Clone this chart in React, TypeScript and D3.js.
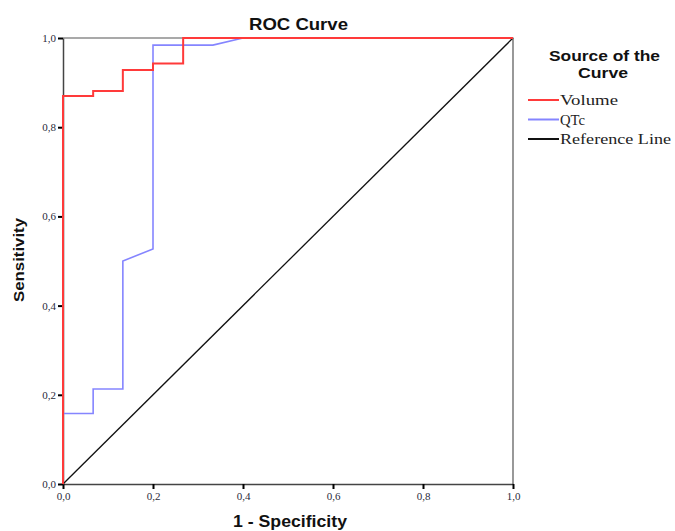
import React, { useEffect, useRef } from 'react';
import * as d3 from 'd3';

const W = 675;
const H = 531;
const margin = { top: 38, right: 162, bottom: 47, left: 63 };

// [1 - specificity, sensitivity]
const volumeX = [0, 0, 0.067, 0.067, 0.133, 0.133, 0.2, 0.2, 0.267, 0.267, 1];
const volumeY = [0, 0.87, 0.87, 0.881, 0.881, 0.928, 0.928, 0.943, 0.943, 1, 1];
const qtcX = [0, 0, 0.067, 0.067, 0.133, 0.133, 0.2, 0.2, 0.333, 0.4, 1];
const qtcY = [0, 0.158, 0.158, 0.213, 0.213, 0.5, 0.527, 0.984, 0.984, 1, 1];
const refX = [0, 1];
const refY = [0, 1];
const ticks = [0, 0.2, 0.4, 0.6, 0.8, 1.0];

const series = [
  { name: 'Volume', xs: volumeX, ys: volumeY, color: '#ff3a3a', width: 2, textLen: 58 },
  { name: 'QTc', xs: qtcX, ys: qtcY, color: '#8585ff', width: 1.6, textLen: 25 },
  { name: 'Reference Line', xs: refX, ys: refY, color: '#111', width: 1.3, textLen: 111 },
];

export default function App() {
  const ref = useRef<SVGSVGElement>(null);

  useEffect(() => {
    const root = d3.select(ref.current);
    root.selectAll('*').remove();
    const iw = W - margin.left - margin.right;
    const ih = H - margin.top - margin.bottom;

    const x = d3.scaleLinear().domain([0, 1]).range([0, iw]);
    const y = d3.scaleLinear().domain([0, 1]).range([ih, 0]);
    const fmt = (d: number) => d3.format('.1f')(d).replace('.', ',');

    const svg = root.append('g')
      .attr('transform', `translate(${margin.left},${margin.top})`);

    // frame top/right
    svg.append('path')
      .attr('d', `M0,0H${iw}V${ih}`)
      .attr('fill', 'none')
      .attr('stroke', '#555')
      .attr('stroke-width', 1.2);

    const tickFont = (g: any) => {
      g.select('.domain').attr('stroke', '#444').attr('stroke-width', 1.5);
      g.selectAll('.tick line').attr('stroke', '#000').attr('stroke-width', 2);
      g.selectAll('.tick text')
        .attr('font-family', 'Liberation Serif')
        .attr('font-size', 11)
        .attr('fill', '#2a2a3a');
    };

    svg.append('g')
      .attr('transform', `translate(0,${ih})`)
      .call(d3.axisBottom(x).tickValues(ticks).tickFormat(fmt as any).tickSize(5).tickSizeOuter(0))
      .call(tickFont);

    svg.append('g')
      .call(d3.axisLeft(y).tickValues(ticks).tickFormat(fmt as any).tickSize(5).tickSizeOuter(0).tickPadding(2))
      .call(tickFont);

    series.slice().reverse().forEach(s => {
      const pts = s.xs.map((v, i) => [v, s.ys[i]] as [number, number]);
      svg.append('path')
        .datum(pts)
        .attr('fill', 'none')
        .attr('stroke', s.color)
        .attr('stroke-width', s.width)
        .attr('d', d3.line<[number, number]>().x(d => x(d[0])).y(d => y(d[1])));
    });

    const bold = (sel: any, size: number, len: number) => sel
      .attr('font-family', 'Liberation Sans')
      .attr('font-weight', 'bold')
      .attr('font-size', size)
      .attr('fill', '#111')
      .attr('textLength', len)
      .attr('lengthAdjust', 'spacingAndGlyphs');

    root.append('text')
      .attr('x', 249).attr('y', 30)
      .call(bold, 16.5, 99)
      .text('ROC Curve');

    root.append('text')
      .attr('x', 233).attr('y', 527)
      .call(bold, 16, 114)
      .text('1 - Specificity');

    root.append('text')
      .attr('transform', 'translate(24,302) rotate(-90)')
      .call(bold, 15.5, 84)
      .text('Sensitivity');

    const lg = root.append('g');
    lg.append('text').attr('x', 549).attr('y', 61).call(bold, 15.5, 111).text('Source of the');
    lg.append('text').attr('x', 578).attr('y', 78).call(bold, 15.5, 50).text('Curve');

    series.forEach((s, i) => {
      const yy = 100 + i * 19.5;
      lg.append('line')
        .attr('x1', 528).attr('x2', 559)
        .attr('y1', yy).attr('y2', yy)
        .attr('stroke', s.color)
        .attr('stroke-width', 2);
      lg.append('text')
        .attr('x', 560).attr('y', yy + 5)
        .attr('font-family', 'Liberation Serif')
        .attr('font-size', 15.5)
        .attr('fill', '#222')
        .attr('textLength', s.textLen)
        .attr('lengthAdjust', 'spacingAndGlyphs')
        .text(s.name);
    });
  }, []);

  return (
    <svg ref={ref} width={W} height={H}
      style={{ position: 'absolute', left: 0, top: 0, background: '#fff' }} />
  );
}
